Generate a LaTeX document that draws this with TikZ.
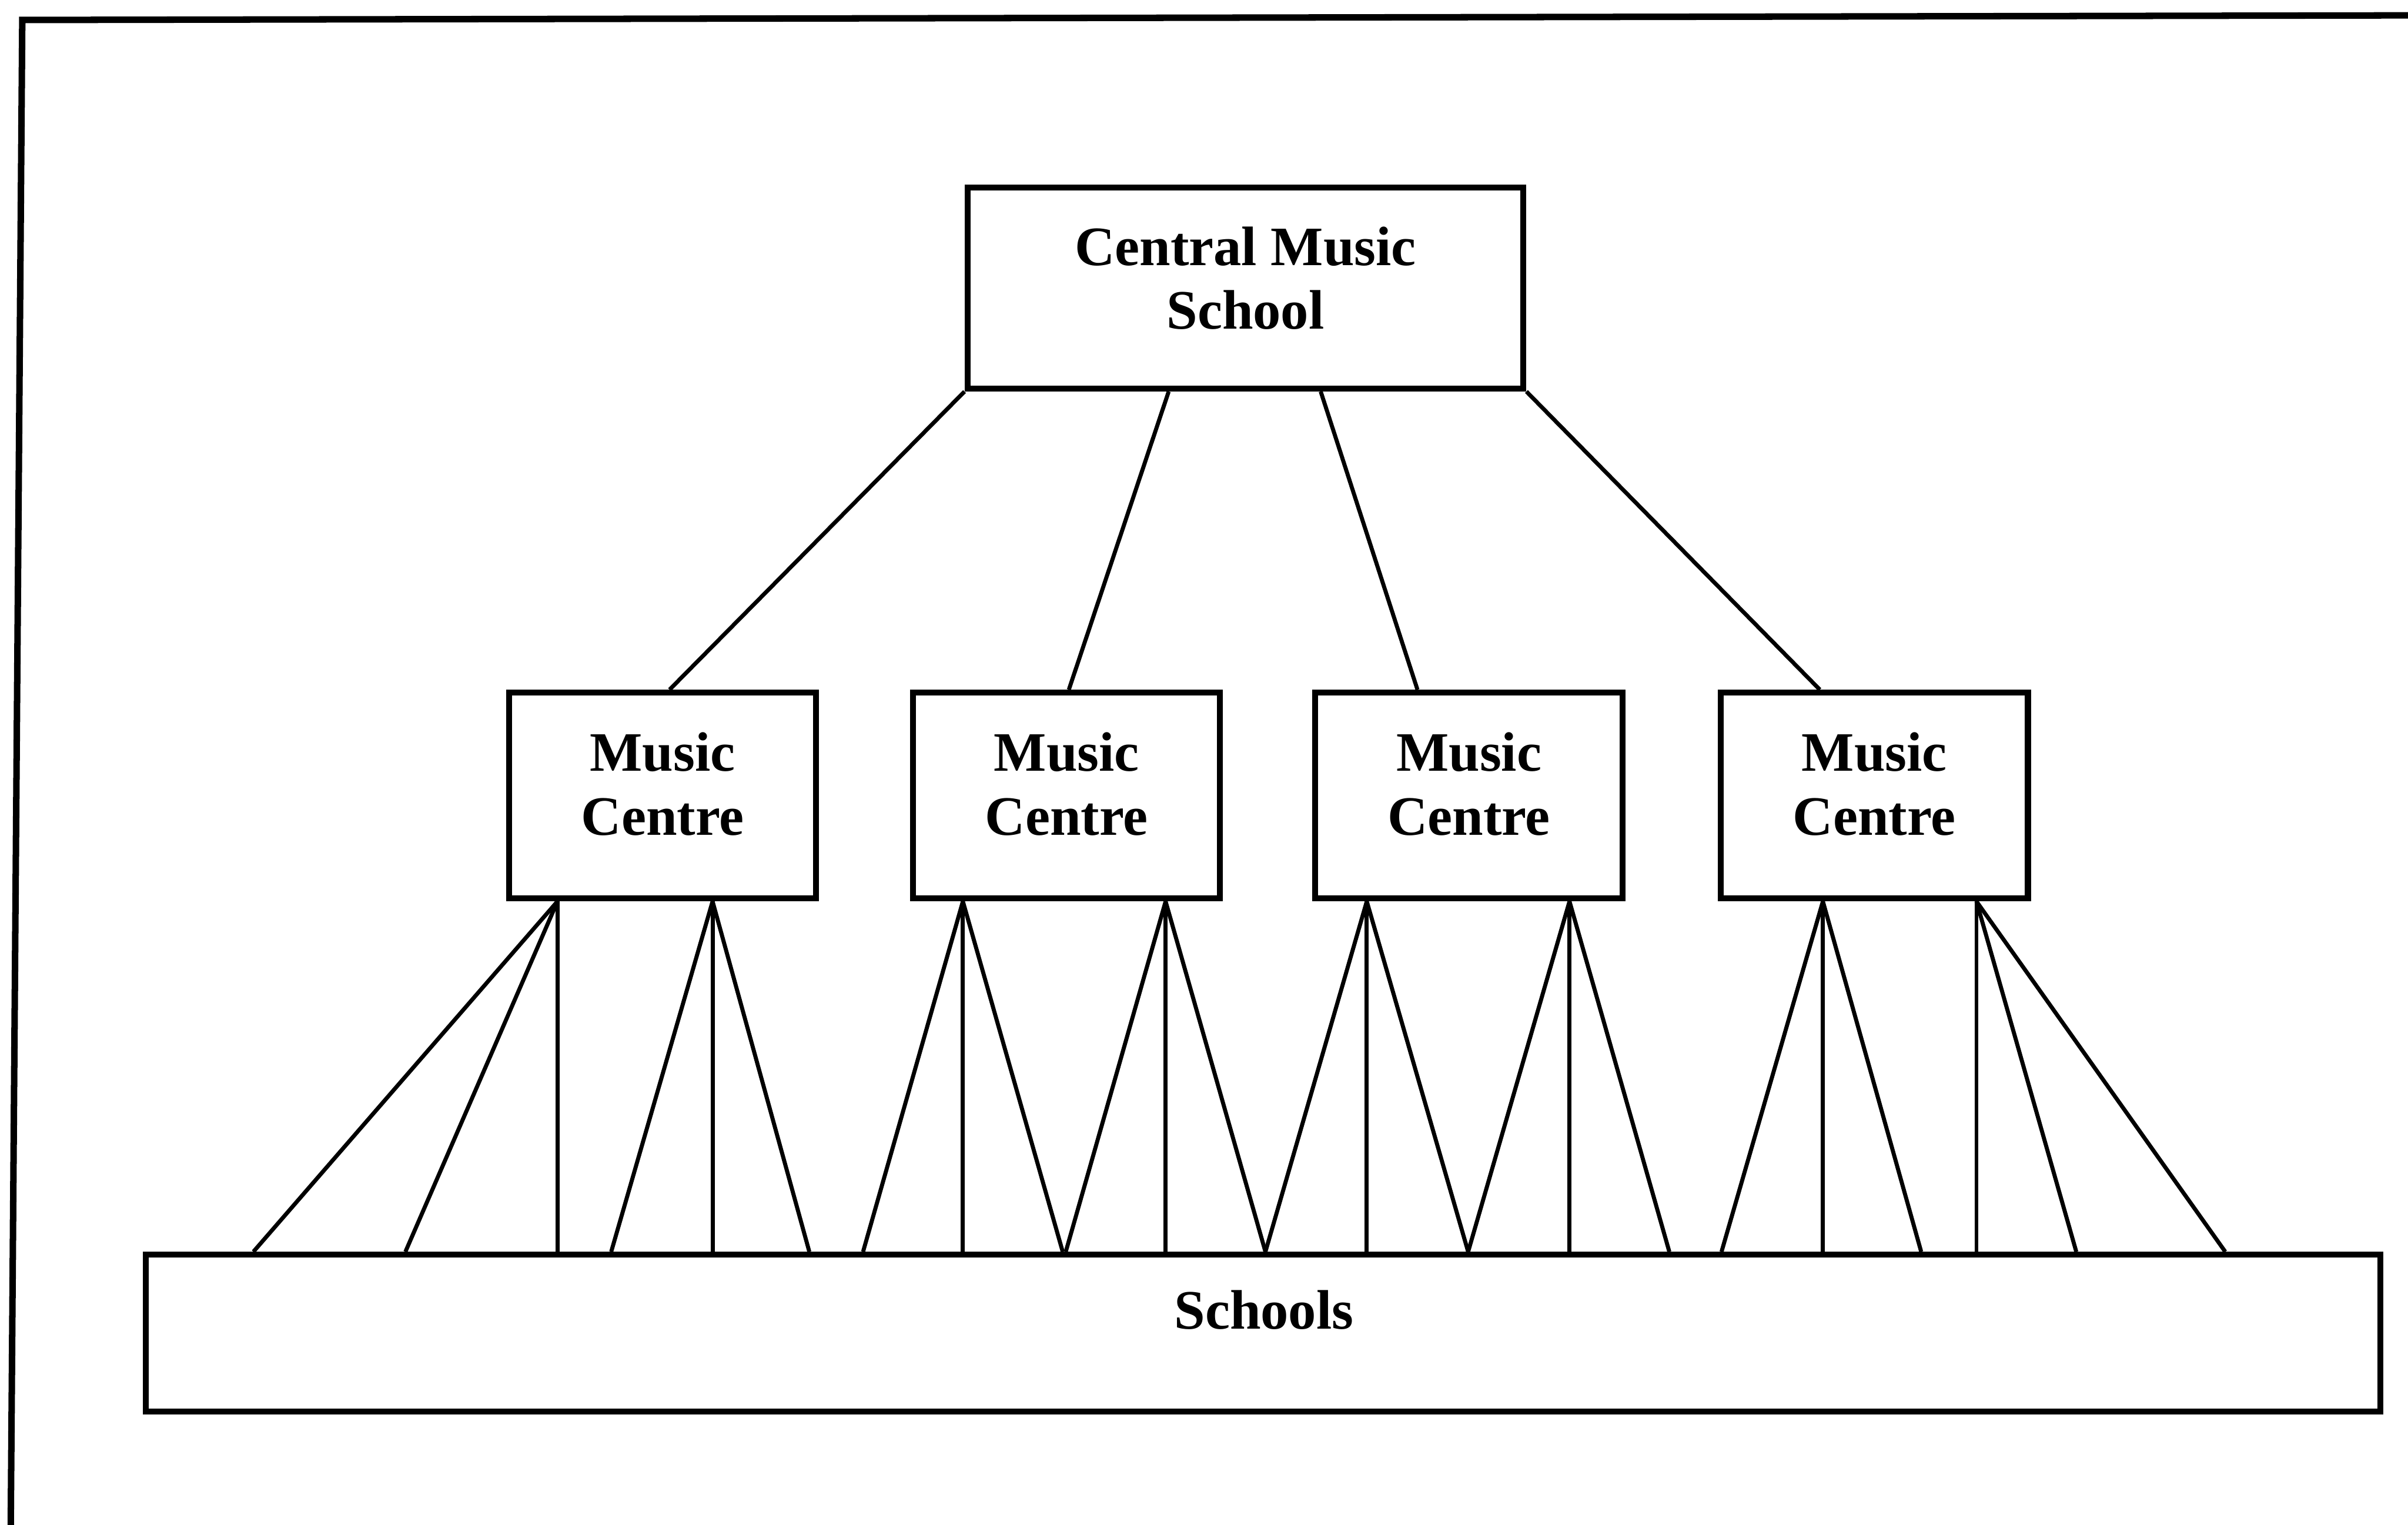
\documentclass[tikz,border=0pt]{standalone}
\usepackage{fontspec}
\setmainfont{Liberation Serif}
\usetikzlibrary{calc}
\begin{document}
\begin{tikzpicture}[x=0.01cm, y=-0.01cm,
  frameline/.style={line width=1.2pt},
  unitbox/.style={draw, line width=1.1pt, inner sep=0pt, rectangle},
  label text/.style={inner sep=0pt, align=center,
    font=\fontsize{10.3pt}{11.8pt}\selectfont\bfseries},
  link/.style={line width=0.75pt}]
\useasboundingbox (0,0) rectangle (1568,993);

% outer frame (top and left edges)
\coordinate (fa) at (1568,10);
\coordinate (fb) at (14.5,13);
\coordinate (fc) at (7,993);
\draw[frameline] (fa) -- (fb) -- (fc);

% boxes
\node[unitbox, minimum width=362*0.01cm, minimum height=131*0.01cm] (cms) at (811,187.5) {};
\node[label text] (cmst) at (811,181) {Central Music\\School};

\foreach \n/\cx in {1/431.5, 2/694.5, 3/956.5, 4/1220.5}{
  \node[unitbox, minimum width=200*0.01cm, minimum height=134*0.01cm] (mc\n) at (\cx,518) {};
  \node[label text] (mct\n) at (\cx,510.5) {Music\\Centre};
}

\node[unitbox, minimum width=1455*0.01cm, minimum height=102*0.01cm] (schools) at (822.5,868) {};
\node[label text] (schoolst) at (823,853) {Schools};

% central school to music centres
\draw[link] (cms.south west) -- ($(mc1.north)+(4.5,0)$);
\draw[link] ($(cms.south)+(-50,0)$) -- ($(mc2.north)+(1.5,0)$);
\draw[link] ($(cms.south)+(49,0)$) -- ($(mc3.north)+(-33.5,0)$);
\draw[link] (cms.south east) -- ($(mc4.north)+(-35.5,0)$);

% music centres to schools
\foreach \c/\sx/\ends in {
  mc1/363/{165,264,363}, mc1/464/{398,464,527},
  mc2/627/{562,627,692}, mc2/759/{694,759,824},
  mc3/890/{824,890,956}, mc3/1022/{956,1022,1087},
  mc4/1187/{1121,1187,1251}, mc4/1287/{1287,1352,1449}}{
  \foreach \ex in \ends {
    \draw[link] (\sx,0 |- \c.south) -- (\ex,0 |- schools.north);
  }
}
\end{tikzpicture}
\end{document}
